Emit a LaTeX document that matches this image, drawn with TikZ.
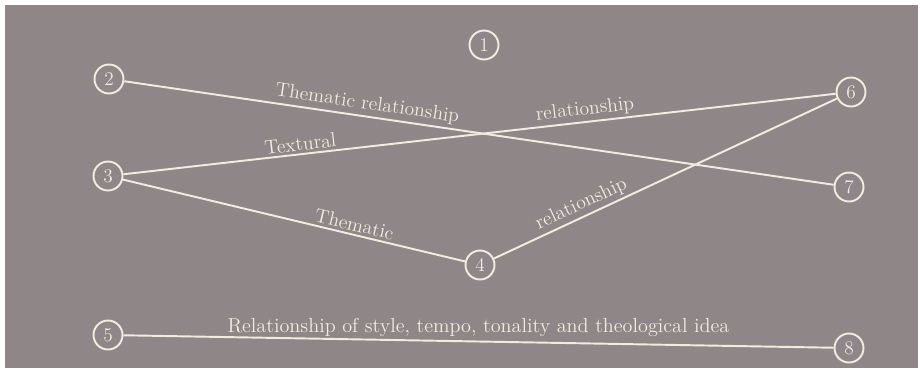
\documentclass[tikz,border=0pt]{standalone}
\usepackage{tikz}
\usetikzlibrary{positioning}
\definecolor{paper}{RGB}{143,135,135}
\definecolor{chalk}{RGB}{240,236,226}

\begin{document}
\begin{tikzpicture}[
    x=0.02cm, y=-0.02cm,
    num/.style={circle, draw=chalk, line width=1.1pt, minimum size=0.58cm, inner sep=0pt, text=chalk, font=\fontsize{11}{13}\selectfont},
    link/.style={draw=chalk, line width=1.1pt},
    lbl/.style={text=chalk, font=\fontsize{11.2}{13}\selectfont, sloped, above, inner sep=1.5pt}
]
\useasboundingbox (0,0) rectangle (920,373);
\fill[white] (0,0) rectangle (920,373);
\fill[paper] (5,5) rectangle (918,368);

\node[num] (n1) at (484,45) {1};
\node[num] (n2) at (109,79) {2};
\node[num] (n3) at (108,176) {3};
\node[num] (n4) at (480,265) {4};
\node[num] (n5) at (108,335) {5};
\node[num] (n6) at (851,92) {6};
\node[num] (n7) at (849,187) {7};
\node[num] (n8) at (849,348) {8};

\draw[link] (n2) -- node[lbl, pos=0.34] {Thematic relationship} (n7);
\draw[link] (n3) -- node[lbl, pos=0.25] {Textural}
                    node[lbl, pos=0.65] {relationship} (n6);
\draw[link] (n3) -- node[lbl, pos=0.67] {Thematic} (n4);
\draw[link] (n4) -- node[lbl, pos=0.27] {relationship} (n6);
\draw[link] (n5) -- node[text=chalk, font=\fontsize{11.5}{13}\selectfont, above=-1pt, pos=0.5] {Relationship of style, tempo, tonality and theological idea} (n8);
\end{tikzpicture}
\end{document}
